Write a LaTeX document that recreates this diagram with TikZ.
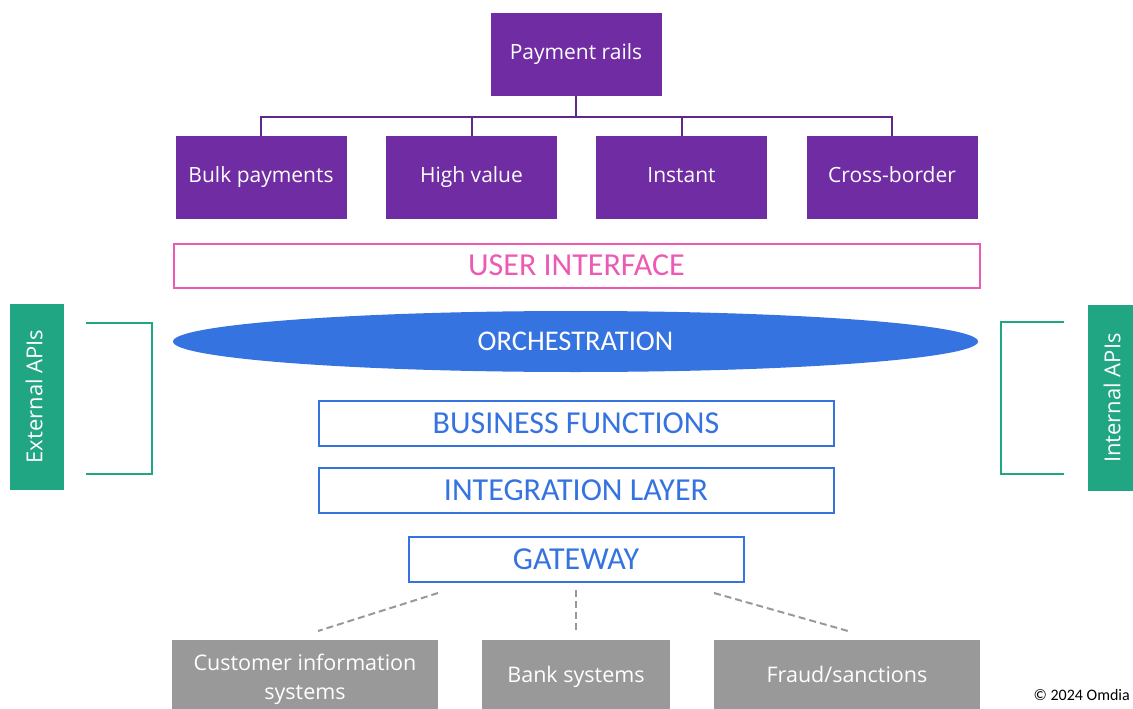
\documentclass[tikz,border=0pt]{standalone}
\usepackage{fontspec}
\setmainfont{Open Sans}
\newfontfamily\capsfont{Carlito}
\usetikzlibrary{shapes.geometric}

\definecolor{railpurple}{RGB}{112,44,162}
\definecolor{linkpurple}{RGB}{96,40,140}
\definecolor{uipink}{RGB}{236,90,180}
\definecolor{layerblue}{RGB}{53,115,225}
\definecolor{apigreen}{RGB}{33,166,131}
\definecolor{sysgray}{RGB}{153,153,153}

\begin{document}
\begin{tikzpicture}[x = 1pt, y = -1pt, inner sep = 0pt,
  rail/.style = {fill = railpurple, text = white, minimum width = 171pt, minimum height = 83pt, text height = 15.5pt, text depth = 5.5pt, font = \fontsize{21}{25}\selectfont},
  caps/.style = {text height = 22pt, text depth = 2pt, font = \capsfont\fontsize{32}{36}\selectfont},
  layer/.style = {caps, draw = layerblue, line width = 2pt, text = layerblue, fill = white, minimum height = 45pt},
  system/.style = {fill = sysgray, text = white, minimum height = 74pt, align = center, font = \fontsize{21.5}{29}\selectfont},
  api/.style = {fill = apigreen, text = white, rotate = 90, minimum width = 186pt, minimum height = 54pt, text height = 16pt, text depth = 5.5pt, font = \fontsize{22}{26}\selectfont},
  link/.style = {draw = linkpurple, line width = 2pt},
  feed/.style = {draw = sysgray, line width = 2pt, dash pattern = on 7pt off 4pt},
  bracket/.style = {draw = apigreen, line width = 2pt}]

\useasboundingbox (0, 0) rectangle (1133, 709);

% rails tree
\node [rail] (rails)   at (576, 54.5) {Payment rails};
\node [rail] (bulk)    at (261, 177.5) {Bulk payments};
\node [rail] (high)    at (471.5, 177.5) {High value};
\node [rail] (instant) at (681.5, 177.5) {Instant};
\node [rail] (cross)   at (892, 177.5) {Cross-border};

\coordinate (fork) at (576, 117);
\draw [link] (rails.south) -- (fork);
\foreach \r in {bulk, high, instant, cross}
  \draw [link] (fork) -| (\r.north);

% stack of layers
\node [caps, draw = uipink, line width = 2pt, text = uipink, minimum width = 806pt, minimum height = 44pt] (ui) at (576.5, 265.5) {USER INTERFACE};
\node [ellipse, fill = layerblue, text = white, minimum width = 805pt, minimum height = 61pt,
       text height = 19pt, text depth = 1pt, font = \capsfont\fontsize{28.5}{32}\selectfont] (orch) at (575.5, 341.5) {ORCHESTRATION};
\node [layer, minimum width = 515pt] (business)    at (576, 423) {BUSINESS FUNCTIONS};
\node [layer, minimum width = 515pt] (integration) at (576, 490) {INTEGRATION LAYER};
\node [layer, minimum width = 335pt] (gateway)     at (576, 559) {GATEWAY};

% back-end systems
\node [system, minimum width = 266pt, text depth = 0pt] (customer) at (305, 677) {Customer information\\systems};
\node [system, minimum width = 188pt, text height = 16pt, text depth = 5.5pt] (bank) at (576, 677) {Bank systems};
\node [system, minimum width = 266pt, text height = 16pt, text depth = 5.5pt] (fraud) at (847, 677) {Fraud/sanctions};

\coordinate (feedA) at (438, 593);
\coordinate (feedB) at (576, 590);
\coordinate (feedC) at (714, 593);
\coordinate (endA)  at (318, 631);
\coordinate (endB)  at (576, 630);
\coordinate (endC)  at (848, 631);
\draw [feed] (feedA) -- (endA);
\draw [feed] (feedB) -- (endB);
\draw [feed] (feedC) -- (endC);

% API side panels
\node [api] (external) at (37, 396.5) {External APIs};
\node [api] (internal) at (1115, 398) {Internal APIs};

\draw [bracket] (86, 323) -- (152, 323) -- (152, 474) -- (86, 474);
\draw [bracket] (1064, 322) -- (1001, 322) -- (1001, 474) -- (1064, 474);

\node [font = \capsfont\fontsize{16}{19}\selectfont, anchor = east] (copy) at (1130, 695) {\textcopyright{} 2024 Omdia};
\end{tikzpicture}
\end{document}
